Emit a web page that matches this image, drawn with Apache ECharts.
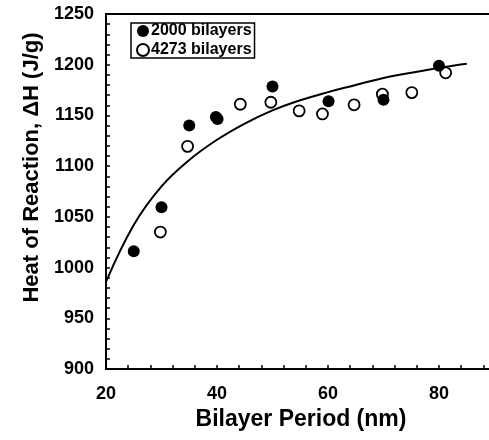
<!DOCTYPE html>
<html>
<head>
<meta charset="utf-8">
<script src="https://cdn.jsdelivr.net/npm/echarts@6/dist/echarts.min.js"></script>
<style>html,body{margin:0;padding:0;background:#fff}#c{width:489px;height:440px}</style>
</head>
<body>
<div id="c"></div>
<script>
// Data
var filledX = [25, 30, 35, 39.8, 40.1, 50, 60.1, 70, 80];
var filledY = [1016, 1059.5, 1140, 1148.5, 1146.5, 1178.5, 1164, 1165.5, 1199];
var openX = [29.8, 34.7, 44.2, 49.7, 54.8, 59, 64.7, 69.8, 75.1, 81.2];
var openY = [1035, 1119.5, 1161, 1163, 1154.5, 1151.5, 1160.5, 1171, 1172.5, 1192];
var curveX = [20, 25, 30, 35, 40, 45, 50, 55, 60, 65, 70, 75, 80, 85];
var curveY = [986, 1042, 1080, 1106, 1126, 1142, 1155, 1165, 1173, 1180, 1187, 1192, 1197, 1201];
var seriesNames = ['2000 bilayers', '4273 bilayers'];
var xTitle = 'Bilayer Period (nm)';
var yTitle = 'Heat of Reaction, \u0394H (J/g)';

function pairs(xs, ys) { return xs.map(function (x, i) { return [x, ys[i]]; }); }

var FONT = '"Liberation Sans", Arial, sans-serif';
var chart = echarts.init(document.getElementById('c'), null, { renderer: 'canvas' });
chart.setOption({
  animation: false,
  backgroundColor: '#fff',
  textStyle: { fontFamily: FONT },
  grid: { left: 106, top: 14, right: -61, bottom: 71, outerBoundsMode: 'none', containLabel: false, show: true, borderColor: '#000', borderWidth: 2, backgroundColor: 'transparent' },
  legend: {
    data: seriesNames,
    orient: 'vertical', left: 131, top: 23,
    borderColor: '#000', borderWidth: 1.5, borderRadius: 0,
    padding: [0, 3, 0, 5], itemGap: 3, itemWidth: 12, itemHeight: 12,
    textStyle: { fontFamily: FONT, fontSize: 16, fontWeight: 'bold', color: '#000', lineHeight: 16, padding: [0, 0, 0, -3] }
  },
  xAxis: {
    type: 'value', min: 20, max: 100, interval: 20,
    name: xTitle, nameLocation: 'middle', nameGap: 34,
    nameTextStyle: { fontFamily: FONT, fontSize: 23, fontWeight: 'bold', color: '#000', padding: [0, 54, 0, 0] },
    axisLine: { show: true, lineStyle: { color: '#000', width: 2 } },
    axisTick: { show: true, inside: true, length: 4, lineStyle: { color: '#000', width: 1.5 } },
    minorTick: { show: true, splitNumber: 5, length: 4, lineStyle: { color: '#000', width: 1.5 } },
    splitLine: { show: false },
    axisLabel: { fontFamily: FONT, fontSize: 18, fontWeight: 'bold', color: '#000', margin: 16, formatter: function (v) { return String(v); } }
  },
  yAxis: {
    type: 'value', min: 900, max: 1250, interval: 50,
    name: yTitle, nameLocation: 'middle', nameGap: 52,
    nameTextStyle: { fontFamily: FONT, fontSize: 22, fontWeight: 'bold', color: '#000', padding: [0, 0, 0, 48] },
    axisLine: { show: true, lineStyle: { color: '#000', width: 2 } },
    axisTick: { show: true, inside: true, length: 4, lineStyle: { color: '#000', width: 1.5 } },
    minorTick: { show: true, splitNumber: 5, length: 4, lineStyle: { color: '#000', width: 1.5 } },
    splitLine: { show: false },
    axisLabel: { fontFamily: FONT, fontSize: 18, fontWeight: 'bold', color: '#000', margin: 12, formatter: function (v) { return String(v); } }
  },
  series: [
    {
      name: 'fit', type: 'line', data: pairs(curveX, curveY), smooth: 0.4,
      showSymbol: false, symbol: 'none', lineStyle: { color: '#000', width: 2 }, z: 1, silent: true
    },
    {
      name: seriesNames[0], type: 'scatter', data: pairs(filledX, filledY),
      symbol: 'circle', symbolSize: 12, itemStyle: { color: '#000', opacity: 1 }, z: 3
    },
    {
      name: seriesNames[1], type: 'scatter', data: pairs(openX, openY),
      symbol: 'circle', symbolSize: 11, itemStyle: { color: '#fff', borderColor: '#000', borderWidth: 1.8, opacity: 1 }, z: 2
    }
  ]
});
</script>
</body>
</html>
